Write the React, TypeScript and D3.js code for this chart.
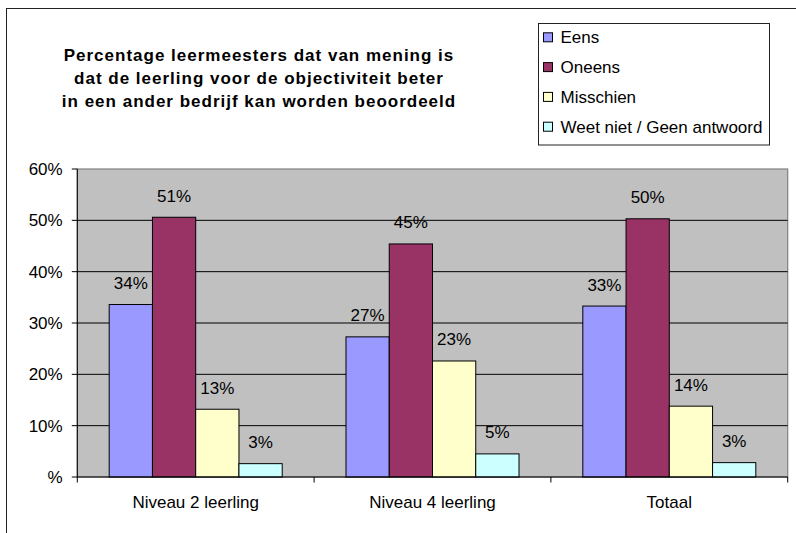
import React from "react";
import * as d3 from "d3";

const categories = ["Niveau 2 leerling", "Niveau 4 leerling", "Totaal"];
const seriesNames = ["Eens", "Oneens", "Misschien", "Weet niet / Geen antwoord"];
const eens = [33.6, 27.3, 33.3];
const oneens = [50.6, 45.4, 50.3];
const misschien = [13.2, 22.6, 13.8];
const weetNiet = [2.6, 4.5, 2.8];
const seriesColors = ["#9999FF", "#993366", "#FFFFCC", "#CCFFFF"];
const yTicks = [0, 10, 20, 30, 40, 50, 60];
const titleLines = [
  "Percentage leermeesters dat van mening is",
  "dat de leerling voor de objectiviteit beter",
  "in een ander bedrijf kan worden beoordeeld",
];

const seriesValues = [eens, oneens, misschien, weetNiet];

const W = 796;
const H = 533;
const plot = { left: 77.3, right: 787.7, top: 169, bottom: 477 };
const FONT = "'Liberation Sans', Arial, sans-serif";

export default function App() {
  const x0 = d3.scaleBand<string>().domain(categories).range([plot.left, plot.right]).paddingInner(0).paddingOuter(0);
  const x1 = d3
    .scaleBand<string>()
    .domain(seriesNames)
    .range([0, x0.bandwidth()])
    .paddingInner(0)
    .paddingOuter(0.7375);
  const y = d3.scaleLinear().domain([0, 60]).range([plot.bottom, plot.top]);

  const boundaries = [...categories.map((c) => x0(c) as number), plot.right];

  return (
    <svg
      width={W}
      height={H}
      style={{ position: "absolute", left: 0, top: 0, background: "#fff" }}
      fontFamily={FONT}
    >
      <rect x={0} y={0} width={W} height={H} fill="#fff" />
      {/* outer chart border */}
      <rect x={6.5} y={8.5} width={820} height={560} fill="none" stroke="#222" strokeWidth={1} />

      {/* title */}
      <text textAnchor="middle" fontSize={17} fontWeight="bold" letterSpacing={1} fill="#000">
        {titleLines.map((t, i) => (
          <tspan key={i} x={259} y={61 + i * 23}>
            {t}
          </tspan>
        ))}
      </text>

      {/* legend */}
      <rect x={538.5} y={23.5} width={231} height={121.5} fill="#fff" stroke="#222" strokeWidth={1} />
      {seriesNames.map((s, i) => {
        const cy = 37.3 + i * 29.8;
        return (
          <g key={s}>
            <rect x={543.5} y={cy - 4.5} width={9} height={9} fill={seriesColors[i]} stroke="#000" strokeWidth={1} />
            <text x={560.5} y={cy + 6} fontSize={17} fill="#000">
              {s}
            </text>
          </g>
        );
      })}

      {/* plot area */}
      <rect
        x={plot.left}
        y={plot.top}
        width={plot.right - plot.left}
        height={plot.bottom - plot.top}
        fill="#C0C0C0"
        stroke="#808080"
        strokeWidth={1.2}
      />
      {yTicks
        .filter((t) => t > 0 && t < 60)
        .map((t) => (
          <line key={t} x1={plot.left} x2={plot.right} y1={y(t)} y2={y(t)} stroke="#000" strokeWidth={1} />
        ))}

      {/* bars */}
      {categories.map((c, ci) =>
        seriesNames.map((s, si) => {
          const v = seriesValues[si][ci];
          const bx = (x0(c) as number) + (x1(s) as number);
          const bw = x1.bandwidth();
          return (
            <g key={c + s}>
              <rect
                x={bx}
                y={y(v)}
                width={bw}
                height={y(0) - y(v)}
                fill={seriesColors[si]}
                stroke="#000"
                strokeWidth={1}
              />
              <text x={bx + bw / 2} y={y(v) - 15.5} textAnchor="middle" fontSize={17} fill="#000">
                {Math.round(v) + "%"}
              </text>
            </g>
          );
        })
      )}

      {/* axes */}
      <line x1={plot.left} x2={plot.left} y1={plot.top} y2={plot.bottom} stroke="#000" strokeWidth={1} />
      <line x1={plot.left} x2={plot.right} y1={plot.bottom} y2={plot.bottom} stroke="#000" strokeWidth={1} />
      {yTicks.map((t) => (
        <g key={t}>
          <line x1={plot.left - 5.5} x2={plot.left} y1={y(t)} y2={y(t)} stroke="#000" strokeWidth={1} />
          <text x={62.7} y={y(t)} dy="0.36em" textAnchor="end" fontSize={17} fill="#000">
            {t === 0 ? "%" : t + "%"}
          </text>
        </g>
      ))}
      {boundaries.map((bx, i) => (
        <line key={i} x1={bx} x2={bx} y1={plot.bottom} y2={plot.bottom + 5.5} stroke="#000" strokeWidth={1} />
      ))}
      {categories.map((c) => (
        <text
          key={c}
          x={(x0(c) as number) + x0.bandwidth() / 2}
          y={508.3}
          textAnchor="middle"
          fontSize={17}
          fill="#000"
        >
          {c}
        </text>
      ))}
    </svg>
  );
}
